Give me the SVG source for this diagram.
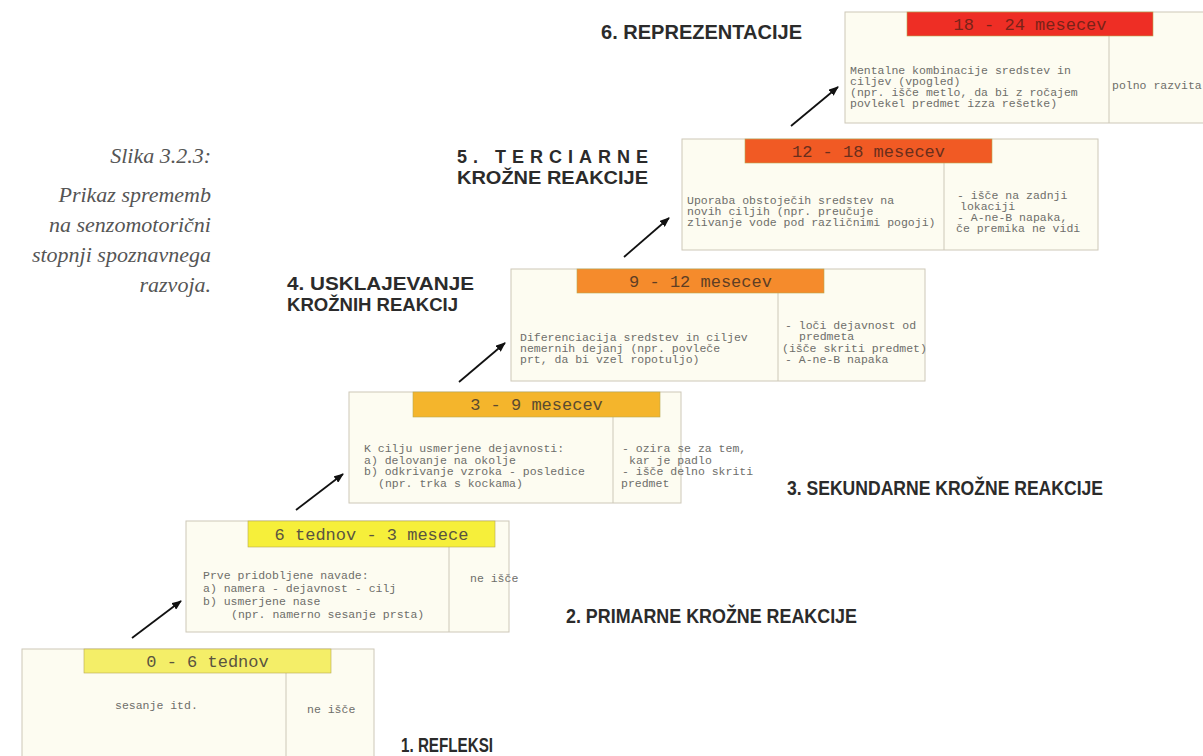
<svg xmlns="http://www.w3.org/2000/svg" width="1203" height="756" viewBox="0 0 1203 756">
<style>
.box{fill:#fdfcf1;stroke:#cdc8b8;stroke-width:1}
.div{stroke:#cdc8b8;stroke-width:1}
.lab{stroke:#b9a850;stroke-width:0.6}
.lt{font-family:"Liberation Mono",monospace;font-size:17px;text-anchor:middle}
.t{font-family:"Liberation Mono",monospace;font-size:11.5px;fill:#6e6e6a}
.st{font-family:"Liberation Sans",Arial,sans-serif;font-weight:bold;font-size:20.5px;fill:#2b2b2b}
.st2{font-family:"Liberation Sans",Arial,sans-serif;font-weight:bold;font-size:18px;fill:#2b2b2b}
.cap{font-family:"Liberation Serif",serif;font-style:italic;font-size:22px;fill:#555;text-anchor:end}
.arr{stroke:#111;stroke-width:1.8;fill:none;marker-end:url(#ah)}
</style>
<defs>
<marker id="ah" markerWidth="10" markerHeight="8" refX="9" refY="4" orient="auto" markerUnits="userSpaceOnUse">
<path d="M0,0 L10,4 L0,8 Z" fill="#111"/>
</marker>
</defs>
<rect width="1203" height="756" fill="#ffffff"/>

<g id="caption">
<text class="cap" x="211" y="163">Slika 3.2.3:</text>
<text class="cap" x="211" y="202">Prikaz sprememb</text>
<text class="cap" x="211" y="232">na senzomotorični</text>
<text class="cap" x="211" y="262">stopnji spoznavnega</text>
<text class="cap" x="211" y="292">razvoja.</text>
</g>

<g id="stage1">
<rect class="box" x="22" y="649" width="352" height="120"/>
<line class="div" x1="286" y1="673" x2="286" y2="756"/>
<rect class="lab" x="84" y="649" width="247" height="24" fill="#f4ee68"/>
<text class="lt" x="207.5" y="667" fill="#5a5440">0 - 6 tednov</text>
<text class="t" x="115" y="709">sesanje itd.</text>
<text class="t" x="307" y="713">ne išče</text>
<text class="st" x="401" y="752" textLength="92" lengthAdjust="spacingAndGlyphs">1. REFLEKSI</text>
</g>

<g id="stage2">
<rect class="box" x="186" y="521" width="323" height="111"/>
<line class="div" x1="449" y1="547" x2="449" y2="632"/>
<rect class="lab" x="248" y="521" width="247" height="26" fill="#f6ef3a"/>
<text class="lt" x="371.5" y="540" fill="#5a5440">6 tednov - 3 mesece</text>
<text class="t" x="203" y="579">Prve pridobljene navade:</text>
<text class="t" x="203" y="592">a) namera - dejavnost - cilj</text>
<text class="t" x="203" y="605">b) usmerjene nase</text>
<text class="t" x="231" y="618">(npr. namerno sesanje prsta)</text>
<text class="t" x="470" y="582">ne išče</text>
<text class="st" x="566" y="623" textLength="291" lengthAdjust="spacingAndGlyphs">2. PRIMARNE KROŽNE REAKCIJE</text>
</g>

<g id="stage3">
<rect class="box" x="349" y="392" width="332" height="111"/>
<line class="div" x1="613" y1="417" x2="613" y2="503"/>
<rect class="lab" x="413" y="392" width="247" height="25" fill="#f4b52c"/>
<text class="lt" x="536.5" y="410" fill="#5a4a30">3 - 9 mesecev</text>
<text class="t" x="364" y="452">K cilju usmerjene dejavnosti:</text>
<text class="t" x="364" y="464">a) delovanje na okolje</text>
<text class="t" x="364" y="475">b) odkrivanje vzroka - posledice</text>
<text class="t" x="378" y="487">(npr. trka s kockama)</text>
<text class="t" x="622" y="452">- ozira se za tem,</text>
<text class="t" x="629" y="464">kar je padlo</text>
<text class="t" x="622" y="475">- išče delno skriti</text>
<text class="t" x="621" y="487">predmet</text>
<text class="st" x="787" y="495" textLength="316" lengthAdjust="spacingAndGlyphs">3. SEKUNDARNE KROŽNE REAKCIJE</text>
</g>

<g id="stage4">
<rect class="box" x="511" y="269" width="414" height="112"/>
<line class="div" x1="778" y1="293" x2="778" y2="381"/>
<rect class="lab" x="577" y="269" width="247" height="24" fill="#f58b2c"/>
<text class="lt" x="700.5" y="287" fill="#5e3e24">9 - 12 mesecev</text>
<text class="t" x="520" y="341">Diferenciacija sredstev in ciljev</text>
<text class="t" x="520" y="352">nemernih dejanj (npr. povleče</text>
<text class="t" x="520" y="363">prt, da bi vzel ropotuljo)</text>
<text class="t" x="785" y="329">- loči dejavnost od</text>
<text class="t" x="799" y="340">predmeta</text>
<text class="t" x="782" y="352">(išče skriti predmet)</text>
<text class="t" x="785" y="363">- A-ne-B napaka</text>
<text class="st2" x="287" y="290" textLength="187" lengthAdjust="spacingAndGlyphs">4. USKLAJEVANJE</text>
<text class="st2" x="287" y="311" textLength="171" lengthAdjust="spacingAndGlyphs">KROŽNIH REAKCIJ</text>
</g>

<g id="stage5">
<rect class="box" x="682" y="139" width="416" height="111"/>
<line class="div" x1="944" y1="163" x2="944" y2="250"/>
<rect class="lab" x="745" y="139" width="247" height="24" fill="#f15a24"/>
<text class="lt" x="868.5" y="157" fill="#6a2e1c">12 - 18 mesecev</text>
<text class="t" x="687" y="204">Uporaba obstoječih sredstev na</text>
<text class="t" x="687" y="215">novih ciljih (npr. preučuje</text>
<text class="t" x="687" y="226">zlivanje vode pod različnimi pogoji)</text>
<text class="t" x="957" y="199">- išče na zadnji</text>
<text class="t" x="960" y="210">lokaciji</text>
<text class="t" x="957" y="221">- A-ne-B napaka,</text>
<text class="t" x="956" y="232">če premika ne vidi</text>
<text class="st2" x="457" y="163" textLength="191" lengthAdjust="spacing">5. TERCIARNE</text>
<text class="st2" x="457" y="184" textLength="191" lengthAdjust="spacingAndGlyphs">KROŽNE REAKCIJE</text>
</g>

<g id="stage6">
<rect class="box" x="845" y="12" width="370" height="111"/>
<line class="div" x1="1109" y1="36" x2="1109" y2="123"/>
<rect class="lab" x="907" y="12" width="246" height="24" fill="#ee2e25"/>
<text class="lt" x="1030" y="30" fill="#7a2218">18 - 24 mesecev</text>
<text class="t" x="850" y="74">Mentalne kombinacije sredstev in</text>
<text class="t" x="850" y="85">ciljev (vpogled)</text>
<text class="t" x="850" y="96">(npr. išče metlo, da bi z ročajem</text>
<text class="t" x="850" y="107">povlekel predmet izza rešetke)</text>
<text class="t" x="1112" y="89">polno razvita</text>
<text class="st" x="601" y="39" textLength="201" lengthAdjust="spacingAndGlyphs">6. REPREZENTACIJE</text>
</g>

<g id="connectors">
<line class="arr" x1="132" y1="638" x2="181" y2="601"/>
<line class="arr" x1="296" y1="510" x2="343" y2="474"/>
<line class="arr" x1="459" y1="382" x2="505" y2="343"/>
<line class="arr" x1="624" y1="257" x2="669" y2="218"/>
<line class="arr" x1="791" y1="126" x2="838" y2="87"/>
</g>
</svg>
